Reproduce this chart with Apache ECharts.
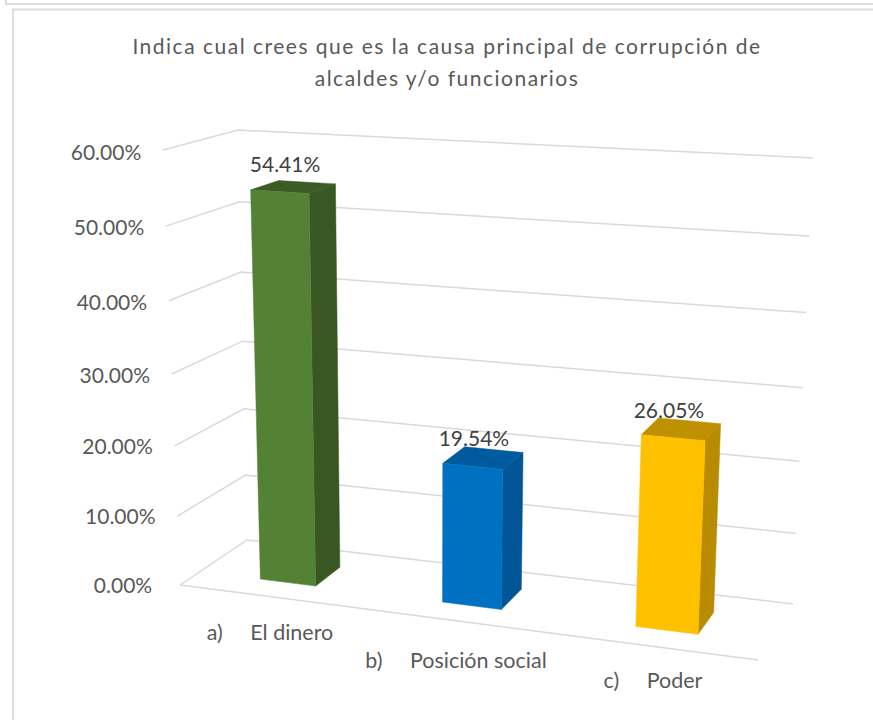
<!DOCTYPE html>
<html>
<head>
<meta charset="utf-8">
<style>
html,body{margin:0;padding:0;background:#fff}
#c{width:873px;height:720px}
#c text[style*="Noto"]{letter-spacing:1.5px}
</style>
<script src="https://cdn.jsdelivr.net/npm/echarts@6/dist/echarts.min.js"></script>
</head>
<body>
<div id="c"></div>
<script>
// ---- data ----
const titleText = 'Indica cual crees que es la causa principal de corrupción de\nalcaldes y/o funcionarios';
const categories = ['a)     El dinero', 'b)     Posición social', 'c)     Poder'];
const values = [54.41, 19.54, 26.05];
const valueTicks = [0, 10, 20, 30, 40, 50, 60];

// ---- styles and layout of the 3D box (screen corners of the plot cube) ----
const faceColors = [
  { front: '#548235', side: '#385723', top: '#3b5c25' },
  { front: '#0070c0', side: '#005697', top: '#005a9e' },
  { front: '#ffc000', side: '#b88b00', top: '#bf9000' }
];
const box = {
  floor: { fl: [180, 585], fr: [758, 660], bl: [247, 540], br: [793, 604] },
  roof:  { fl: [163, 150], fr: [780, 185], bl: [238, 130], br: [813, 158] }
};
const GRID = { left: 100, top: 100, width: 600, height: 400 };
const BAR_BAND = 0.31, DEPTH_FRONT = 0.3, DEPTH_BACK = 0.7;
const labelShift = [[-8, -17], [-9, -9], [-12, -9]];
const catLabelPos = [[270, 632], [456, 660], [653, 680]];
const FONT = 'Lato, "Open Sans", sans-serif';
const GREY = '#595959';

const mix = (a, b, t) => [a[0] + (b[0] - a[0]) * t, a[1] + (b[1] - a[1]) * t];
const persp = (t, k) => t + k * t * (t - 1);
function plane(p, u, w) { return mix(mix(p.fl, p.fr, u), mix(p.bl, p.br, u), w); }
function project(u, v, w) {
  return mix(plane(box.floor, persp(u, 0.088), w), plane(box.roof, persp(u, 0.088), w), persp(v, 0.06));
}
function norm(api, pt) {
  return [(pt[0] - GRID.left) / GRID.width, (GRID.top + GRID.height - pt[1]) / GRID.height];
}
const poly = (points, fill) => ({ type: 'polygon', shape: { points }, style: { fill, stroke: fill, lineWidth: 0.5 } });
const txt = (x, y, text, size, color) => ({
  type: 'text', style: { x, y, text, fill: color, font: size + 'px ' + FONT, textAlign: 'center', textVerticalAlign: 'middle' }
});

const option = {
  animation: false,
  backgroundColor: '#ffffff',
  title: {
    text: titleText, left: 442, top: 24, textAlign: 'center',
    textStyle: { fontFamily: 'Lato, "Noto Sans", sans-serif', fontSize: 21, fontWeight: 'normal', color: GREY, lineHeight: 32 }
  },
  graphic: [
    { type: 'polyline', shape: { points: [[6, 0], [6, 4], [873, 4]] }, style: { stroke: '#dcdcdc', lineWidth: 2, fill: 'none' } },
    { type: 'polyline', shape: { points: [[13, 720], [13, 9.5], [873, 9.5]] }, style: { stroke: '#dcdcdc', lineWidth: 2, fill: 'none' } }
  ],
  grid: GRID,
  xAxis: { type: 'category', data: categories, show: false },
  yAxis: { type: 'value', min: 0, max: 60, interval: 10, show: false },
  series: [
    {
      // walls: gridlines and value labels
      type: 'custom', silent: true, z: 1,
      data: valueTicks.map(t => [0, t]),
      encode: { x: 0, y: 1 },
      renderItem(params, api) {
        const val = api.value(1);
        const v = norm(api, api.coord([0, val]))[1];
        const fl = project(0, v, 0), bl = project(0, v, 1), br = project(1, v, 1);
        const children = [{
          type: 'polyline', shape: { points: [fl, bl, br] },
          style: { stroke: '#d9d9d9', lineWidth: 1.5, fill: 'none' }
        }];
        if (val === 0) children.push({
          type: 'line', shape: { x1: fl[0], y1: fl[1], x2: project(1, 0, 0)[0], y2: project(1, 0, 0)[1] },
          style: { stroke: '#d9d9d9', lineWidth: 1.5 }
        });
        children.push(txt(fl[0] - 22 - 35, fl[1] - 1 + 2 * v, val.toFixed(2) + '%', 21, GREY));
        return { type: 'group', children };
      }
    },
    {
      // bars
      type: 'custom', silent: true, z: 2,
      data: values.map((val, i) => [i, val]),
      encode: { x: 0, y: 1 },
      renderItem(params, api) {
        const i = api.value(0), val = api.value(1);
        const size = api.size([1, 0])[0];
        const base = api.coord([i, 0]), top = api.coord([i, val]);
        const uc = norm(api, base)[0], du = (size / GRID.width) * BAR_BAND / 2;
        const v = norm(api, top)[1];
        const u0 = uc - du, u1 = uc + du;
        const c = faceColors[i];
        const P = (u, vv, w) => project(u, vv, w);
        const front = [P(u0, 0, DEPTH_FRONT), P(u1, 0, DEPTH_FRONT), P(u1, v, DEPTH_FRONT), P(u0, v, DEPTH_FRONT)];
        const side = [P(u1, 0, DEPTH_FRONT), P(u1, 0, DEPTH_BACK), P(u1, v, DEPTH_BACK), P(u1, v, DEPTH_FRONT)];
        const topFace = [P(u0, v, DEPTH_FRONT), P(u1, v, DEPTH_FRONT), P(u1, v, DEPTH_BACK), P(u0, v, DEPTH_BACK)];
        const a = P(u0, v, DEPTH_FRONT), b = P(u1, v, DEPTH_BACK), back = P(u0, v, DEPTH_BACK);
        return {
          type: 'group',
          children: [
            poly(side, c.side), poly(topFace, c.top), poly(front, c.front),
            txt((a[0] + b[0]) / 2 + labelShift[i][0], back[1] + labelShift[i][1], val.toFixed(2) + '%', 21, '#404040')
          ]
        };
      }
    },
    {
      // category labels
      type: 'custom', silent: true, z: 3,
      data: categories.map((name, i) => [i, name]),
      encode: { x: 0 },
      renderItem(params, api) {
        const i = api.value(0);
        return txt(catLabelPos[i][0], catLabelPos[i][1], categories[i], 21.5, GREY);
      }
    }
  ]
};
const chart = echarts.init(document.getElementById('c'), null, { renderer: 'svg' });
chart.setOption(option);
</script>
</body>
</html>
